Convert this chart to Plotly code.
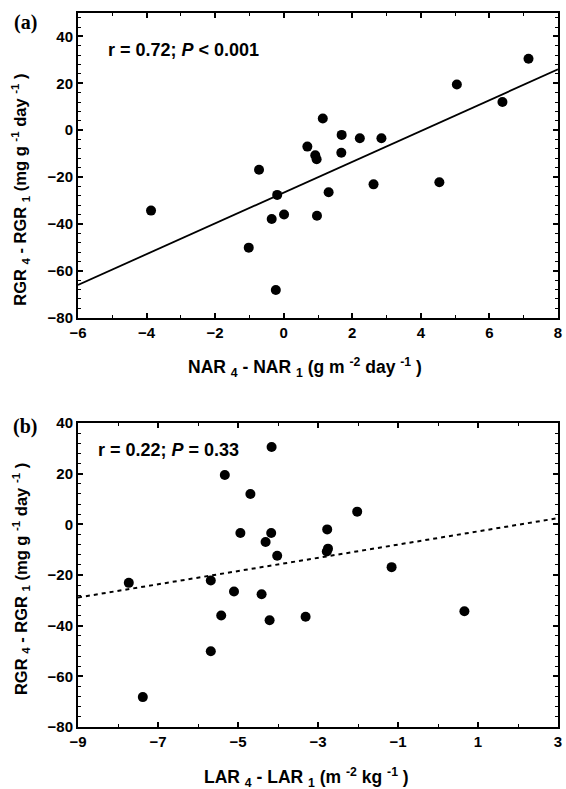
import plotly.graph_objects as go

# ---- data ----
rgr_diff = [30.5, 19.5, 12.0, 5.0, -2.0, -3.4, -3.4, -7.0, -10.7, -12.4, -9.6,
            -16.9, -27.6, -26.5, -23.1, -22.2, -34.3, -37.9, -36.0, -36.5, -50.1, -68.2]
nar_diff = [7.14, 5.05, 6.38, 1.14, 1.69, 2.22, 2.85, 0.69, 0.92, 0.96, 1.68,
            -0.72, -0.19, 1.31, 2.62, 4.54, -3.87, -0.35, 0.01, 0.97, -1.02, -0.23]
lar_diff = [-4.16, -5.33, -4.69, -2.02, -2.77, -4.94, -4.17, -4.31, -2.78, -4.02, -2.75,
            -1.16, -4.41, -5.10, -7.73, -5.68, 0.66, -4.21, -5.42, -3.31, -5.68, -7.38]

fit_a_slope, fit_a_intercept = 6.57, -26.6
fit_b_slope, fit_b_intercept = 2.61, -5.4

xrange_a = [-6, 8]
xrange_b = [-9, 3]
yrange_a = [-80, 50]
yrange_b = [-80, 40]

stat_a = "r = 0.72; <i>P</i> &lt; 0.001"
stat_b = "r = 0.22; <i>P</i> = 0.33"
xtitle_a = "NAR <sub>4</sub> - NAR <sub>1</sub> (g m <sup>-2</sup> day <sup>-1</sup> )"
xtitle_b = "LAR <sub>4</sub> - LAR <sub>1</sub> (m <sup>-2</sup> kg <sup>-1</sup> )"
ytitle = "RGR <sub>4</sub> - RGR <sub>1</sub> (mg g <sup>-1</sup> day <sup>-1</sup> )"

# ---- layout geometry (pixels) ----
W, H = 566, 789
L, R, T, B = 78, 4, 10, 62
PW = W - L - R
PH = H - T - B


def px(x):
    return (x - L) / PW


def py(y):
    return (H - B - y) / PH


FONT = "Liberation Sans, Arial, sans-serif"
black = "black"

fig = go.Figure()

fig.add_trace(go.Scatter(x=nar_diff, y=rgr_diff, mode="markers",
                         marker=dict(size=10, color=black), xaxis="x", yaxis="y",
                         showlegend=False))
fig.add_trace(go.Scatter(x=xrange_a,
                         y=[fit_a_intercept + fit_a_slope * v for v in xrange_a],
                         mode="lines", line=dict(color=black, width=1.8),
                         xaxis="x", yaxis="y", showlegend=False))

fig.add_trace(go.Scatter(x=lar_diff, y=rgr_diff, mode="markers",
                         marker=dict(size=10, color=black), xaxis="x2", yaxis="y2",
                         showlegend=False))
fig.add_trace(go.Scatter(x=xrange_b,
                         y=[fit_b_intercept + fit_b_slope * v for v in xrange_b],
                         mode="lines", line=dict(color=black, width=2, dash="4px,4px"),
                         xaxis="x2", yaxis="y2", showlegend=False))

tickfont = dict(family=FONT, size=15, color=black, weight="bold")
common = dict(showline=True, linewidth=2, linecolor=black, mirror="allticks",
              ticks="inside", ticklen=5, tickwidth=1.5, tickcolor=black,
              showgrid=False, zeroline=False, tickfont=tickfont)
minor = dict(ticks="inside", ticklen=3, tickwidth=1.2, tickcolor=black, showgrid=False)

fig.update_layout(
    width=W, height=H,
    margin=dict(l=L, r=R, t=T, b=B),
    paper_bgcolor="white", plot_bgcolor="white",
    xaxis=dict(domain=[0, 1], anchor="y", range=xrange_a, tick0=0, dtick=2,
               minor=dict(dtick=1, **minor), **common),
    yaxis=dict(domain=[py(316), 1], anchor="x", range=yrange_a, tick0=0, dtick=20,
               minor=dict(dtick=4, **minor), **common),
    xaxis2=dict(domain=[0, 1], anchor="y2", range=xrange_b, tick0=-9, dtick=2,
                minor=dict(dtick=1, **minor), **common),
    yaxis2=dict(domain=[0, py(421.7)], anchor="x2", range=yrange_b, tick0=0, dtick=20,
                minor=dict(dtick=4, **minor), **common),
)

ann_font = dict(family=FONT, size=18, color=black, weight="bold")
xt_font = dict(family=FONT, size=17.5, color=black, weight="bold")
yt_font = dict(family=FONT, size=16.5, color=black, weight="bold")
label_font = dict(family="Liberation Serif, Times New Roman, serif", size=20,
                  color=black, weight="bold")

annotations = [
    dict(text=stat_a, x=px(106), y=py(47), xanchor="left", yanchor="middle", font=ann_font),
    dict(text=stat_b, x=px(96), y=py(449), xanchor="left", yanchor="middle", font=ann_font),
    dict(text="(a)", x=px(25), y=py(20), xanchor="center", yanchor="middle", font=label_font),
    dict(text="(b)", x=px(25), y=py(425), xanchor="center", yanchor="middle", font=label_font),
    dict(text=xtitle_a, x=px(307), y=py(366), xanchor="center", yanchor="middle", font=xt_font),
    dict(text=xtitle_b, x=px(308), y=py(778), xanchor="center", yanchor="middle", font=xt_font),
    dict(text=ytitle, x=px(20), y=py(187), xanchor="center", yanchor="middle",
         textangle=-90, font=yt_font),
    dict(text=ytitle, x=px(20), y=py(578), xanchor="center", yanchor="middle",
         textangle=-90, font=yt_font),
]
for a in annotations:
    a.update(xref="paper", yref="paper", showarrow=False)
fig.update_layout(annotations=annotations)

fig.write_html("out.html")
